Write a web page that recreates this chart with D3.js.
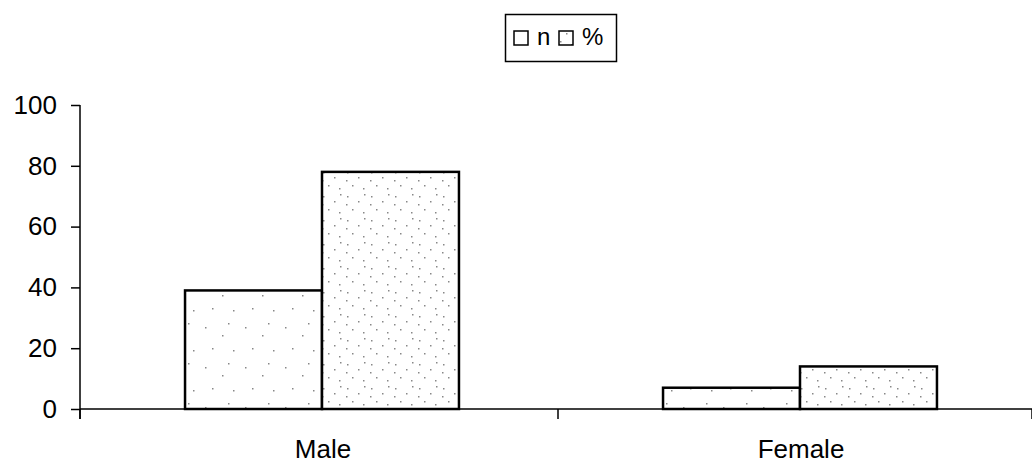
<!DOCTYPE html>
<html>
<head>
<meta charset="utf-8">
<script src="https://cdn.jsdelivr.net/npm/d3@7/dist/d3.min.js"></script>
<style>
  body { margin: 0; background: #fff; }
  svg { display: block; font-family: "Liberation Sans", Arial, sans-serif; }
</style>
</head>
<body>
<svg width="1032" height="464"></svg>
<script>
// data
const categories = ["Male", "Female"];
const series = ["n", "%"];
const nValues = [39, 7];
const pctValues = [78, 14];
const yTicks = [0, 20, 40, 60, 80, 100];

const rows = categories.map((c, i) => ({cat: c, n: nValues[i], "%": pctValues[i]}));

let svg = d3.select("svg");
let defs = svg.append("defs");

// sparse dotted fills like the scanned original
function dotPattern(id, size, dots) {
  let p = defs.append("pattern")
    .attr("id", id)
    .attr("patternUnits", "userSpaceOnUse")
    .attr("width", size).attr("height", size);
  p.append("rect").attr("width", size).attr("height", size).attr("fill", "#fff");
  dots.forEach(d => {
    p.append("rect").attr("x", d[0]).attr("y", d[1])
      .attr("width", 1.5).attr("height", 1.5).attr("fill", "#888");
  });
}
dotPattern("pat-n", 40, [[5, 7], [22, 15], [33, 30], [12, 28], [28, 3]]);
dotPattern("pat-pct", 24, [[3, 4], [14, 9], [8, 17], [19, 20], [20, 2], [2, 12]]);
const fills = {"n": "url(#pat-n)", "%": "url(#pat-pct)"};

let y = d3.scaleLinear().domain([0, 100]).range([409, 105]);
let x0 = d3.scaleBand().domain(categories).range([80, 1036]);
let x1 = d3.scaleBand().domain(series).range([3, x0.bandwidth() + 3]).paddingInner(0).paddingOuter(0.745);

// y axis
let yAxis = svg.append("g")
  .attr("transform", "translate(80,0)")
  .call(d3.axisLeft(y).tickValues(yTicks).tickSize(9).tickPadding(14).tickSizeOuter(0));
yAxis.select(".domain").remove();
yAxis.selectAll("line").attr("stroke", "#000").attr("stroke-width", 1.5);
yAxis.selectAll("text").attr("font-size", 26).attr("fill", "#000")
  .attr("font-family", "Liberation Sans, Arial, sans-serif");
svg.append("line")
  .attr("x1", 80).attr("x2", 80)
  .attr("y1", y(100)).attr("y2", y(0) + 10)
  .attr("stroke", "#000").attr("stroke-width", 1.5);

// bars
let groups = svg.append("g").selectAll("g")
  .data(rows).join("g")
  .attr("transform", d => "translate(" + x0(d.cat) + ",0)");
groups.selectAll("rect")
  .data(d => series.map(s => ({key: s, value: d[s]})))
  .join("rect")
  .attr("x", d => x1(d.key))
  .attr("y", d => y(d.value))
  .attr("width", x1.bandwidth())
  .attr("height", d => y(0) - y(d.value))
  .attr("fill", d => fills[d.key])
  .attr("stroke", "#000")
  .attr("stroke-width", 2.5);

// x axis baseline and category separators
svg.append("line")
  .attr("x1", 80).attr("x2", 1032)
  .attr("y1", y(0)).attr("y2", y(0))
  .attr("stroke", "#000").attr("stroke-width", 1.5);
let bounds = categories.map(c => x0(c)).concat([x0(categories[categories.length - 1]) + x0.bandwidth() - 4]);
svg.append("g").selectAll("line")
  .data(bounds).join("line")
  .attr("x1", d => d).attr("x2", d => d)
  .attr("y1", y(0)).attr("y2", y(0) + 10)
  .attr("stroke", "#000").attr("stroke-width", 1.5);

svg.append("g").selectAll("text")
  .data(categories).join("text")
  .attr("x", d => x0(d) + x0.bandwidth() / 2 + 4)
  .attr("y", 458)
  .attr("text-anchor", "middle")
  .attr("font-size", 26)
  .text(d => d);

// legend
let legend = svg.append("g");
legend.append("rect")
  .attr("x", 505.5).attr("y", 14.5).attr("width", 111).attr("height", 47)
  .attr("fill", "#fff").attr("stroke", "#000").attr("stroke-width", 1.5);
let legendX = {"n": 514, "%": 559};
series.forEach(s => {
  legend.append("rect")
    .attr("x", legendX[s]).attr("y", 31).attr("width", 14).attr("height", 14)
    .attr("fill", fills[s]).attr("stroke", "#000").attr("stroke-width", 1.5);
  legend.append("text")
    .attr("x", legendX[s] + 23).attr("y", 45)
    .attr("font-size", 24)
    .text(s);
});
</script>
</body>
</html>
